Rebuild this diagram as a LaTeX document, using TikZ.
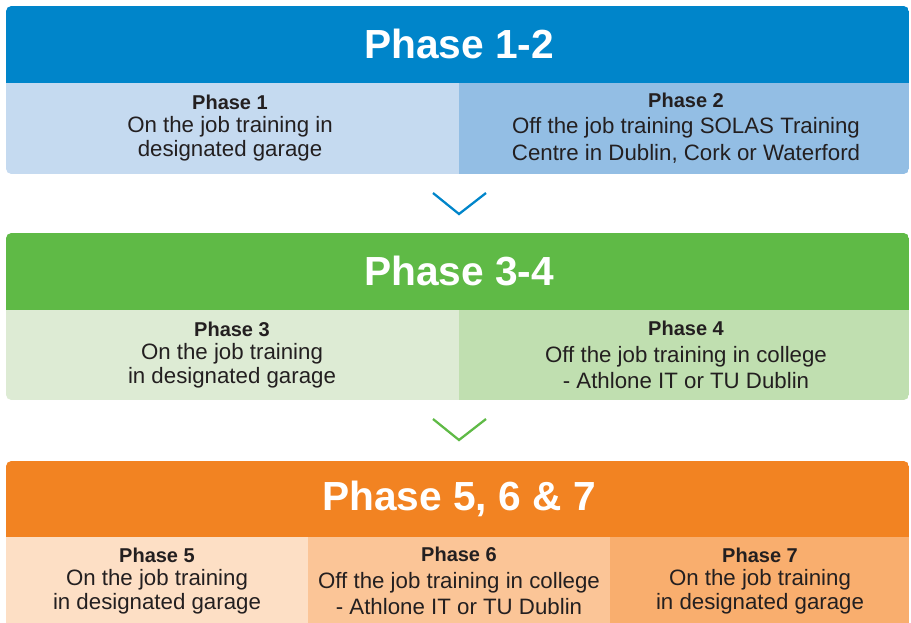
\documentclass[tikz,border=0pt]{standalone}
\usepackage{fontspec}
\setmainfont{Liberation Sans}
\definecolor{bluehead}{HTML}{0085CA}
\definecolor{bluea}{HTML}{C5DAF0}
\definecolor{blueb}{HTML}{93BEE4}
\definecolor{greenhead}{HTML}{5FBA46}
\definecolor{greena}{HTML}{DDEBD4}
\definecolor{greenb}{HTML}{C0DFB0}
\definecolor{orangehead}{HTML}{F28322}
\definecolor{orangea}{HTML}{FDDFC5}
\definecolor{orangeb}{HTML}{FBC597}
\definecolor{orangec}{HTML}{F9AE6E}
\definecolor{ink}{HTML}{231F20}
\newcommand{\phaselabel}[1]{{\fontsize{15}{17}\selectfont\bfseries Phase #1}}

\begin{document}
\begin{tikzpicture}[x=0.75pt, y=-0.75pt,
  head/.style = {text=white, font=\bfseries\fontsize{30.5}{34}\selectfont},
  cell/.style = {align=center, text=ink, font=\fontsize{16.7}{17.3}\selectfont},
  widecell/.style = {cell, font=\fontsize{16.7}{20}\selectfont},
  chev/.style = {draw=#1, line width=1.7pt}]
\clip (0,0) rectangle (911,622);

% phase 1-2
\begin{scope}
\clip[rounded corners=4] (6,6) rectangle (909,174);
\fill[bluehead] (6,6) rectangle (909,83);
\fill[bluea] (6,83) rectangle (459,174);
\fill[blueb] (459,83) rectangle (909,174);
\end{scope}
\node[head] (h12) at (459,44) {Phase 1-2};
\node[cell] (p1) at (230,128) {\phaselabel{1}\\On the job training in\\designated garage};
\node[widecell] (p2) at (686,128) {\phaselabel{2}\\Off the job training SOLAS Training\\Centre in Dublin, Cork or Waterford};

% chevron
\coordinate (v1) at (459,214);
\draw[chev=bluehead] (v1) ++(-26,-21) -- (v1) -- ++(27,-21);

% phase 3-4
\begin{scope}
\clip[rounded corners=4] (6,233) rectangle (909,400);
\fill[greenhead] (6,233) rectangle (909,310);
\fill[greena] (6,310) rectangle (459,400);
\fill[greenb] (459,310) rectangle (909,400);
\end{scope}
\node[head] (h34) at (459,271) {Phase 3-4};
\node[cell] (p3) at (232,355) {\phaselabel{3}\\On the job training\\in designated garage};
\node[widecell] (p4) at (686,355) {\phaselabel{4}\\Off the job training in college\\- Athlone IT or TU Dublin};

% chevron
\coordinate (v2) at (459,440);
\draw[chev=greenhead] (v2) ++(-26,-21) -- (v2) -- ++(27,-21);

% phase 5, 6 & 7
\begin{scope}
\clip[rounded corners=4] (6,461) rectangle (909,640);
\fill[orangehead] (6,461) rectangle (909,537);
\fill[orangea] (6,537) rectangle (308,640);
\fill[orangeb] (308,537) rectangle (610,640);
\fill[orangec] (610,537) rectangle (909,640);
\end{scope}
\node[head] (h567) at (459,499) {Phase 5, 6 \& 7};
\node[cell] (p5) at (157,581) {\phaselabel{5}\\On the job training\\in designated garage};
\node[widecell] (p6) at (459,581) {\phaselabel{6}\\Off the job training in college\\- Athlone IT or TU Dublin};
\node[cell] (p7) at (760,581) {\phaselabel{7}\\On the job training\\in designated garage};
\end{tikzpicture}
\end{document}
